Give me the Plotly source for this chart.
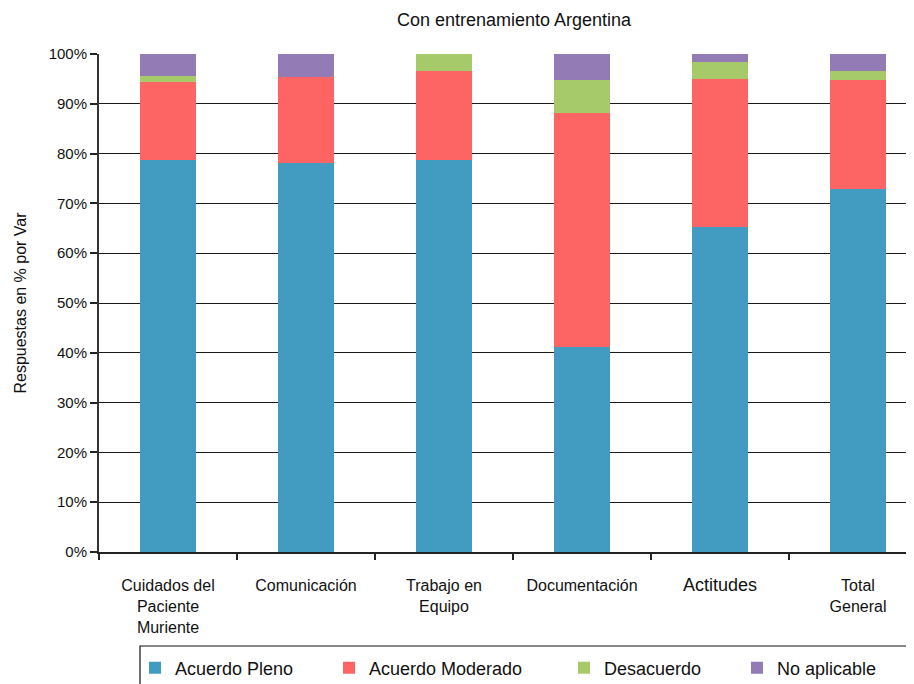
import plotly.graph_objects as go

categories = ["Cuidados del<br>Paciente<br>Muriente", "Comunicación", "Trabajo en<br>Equipo",
              "Documentación", "<span style='font-size:18px'>Actitudes</span>", "Total<br>General"]
cat_keys = ["Cuidados", "Comunicacion", "Trabajo", "Documentacion", "Actitudes", "Total"]

acuerdo_pleno = [78.8, 78.1, 78.8, 41.2, 65.3, 72.9]
acuerdo_moderado = [15.6, 17.3, 17.8, 47.0, 29.7, 21.9]
desacuerdo = [1.1, 0.0, 3.4, 6.6, 3.4, 1.8]
no_aplicable = [4.5, 4.6, 0.0, 5.2, 1.6, 3.4]

y_ticks = [0, 10, 20, 30, 40, 50, 60, 70, 80, 90, 100]

series = [
    ("Acuerdo Pleno", acuerdo_pleno, "#429bc0", "legend"),
    ("Acuerdo Moderado", acuerdo_moderado, "#fd6464", "legend2"),
    ("Desacuerdo", desacuerdo, "#a6ca6a", "legend3"),
    ("No aplicable", no_aplicable, "#937bb6", "legend4"),
]

FONT = "Liberation Sans, Arial, Helvetica, sans-serif"

fig = go.Figure()
for name, vals, color, lg in series:
    fig.add_trace(go.Bar(x=cat_keys, y=vals, name=name,
                         marker=dict(color=color, line=dict(width=0)),
                         width=0.4, legend=lg, showlegend=True))

OFF = 8  # page body margin
W, H = 914 - OFF, 684 - OFF
L, R, T = 99 - OFF, 0, 54 - OFF
ph = 498
B = H - T - ph
pw = W - L - R

def px_x(p):
    return (p - OFF - L) / pw

def px_y(p):
    return (T + ph - (p - OFF)) / ph

legend_left = [135, 329, 564, 737]
leg_common = dict(orientation="h", yanchor="middle", xanchor="left",
                  font=dict(family=FONT, size=18, color="#111"),
                  bgcolor="rgba(0,0,0,0)", borderwidth=0)

fig.update_layout(
    width=W, height=H,
    margin=dict(l=L, r=R, t=T, b=B, autoexpand=False),
    plot_bgcolor="white", paper_bgcolor="white",
    barmode="stack",
    showlegend=True,
    font=dict(family=FONT, color="#111"),
    title=dict(text="Con entrenamiento Argentina", x=(514 - OFF) / W, xref="container", xanchor="center",
               y=1 - (20 - OFF) / H, yref="container", yanchor="middle",
               font=dict(family=FONT, size=18, color="#111")),
    xaxis=dict(type="category", range=[-0.5, -0.5 + pw / 138.0], tickmode="array",
               tickvals=cat_keys, ticktext=categories,
               tickson="boundaries", ticks="outside", ticklen=6, tickcolor="#222", tickwidth=1.5,
               showline=True, linecolor="#222", linewidth=1.5, showgrid=False,
               tickfont=dict(family=FONT, size=16, color="#111"), ticklabelstandoff=18,
               zeroline=False),
    yaxis=dict(range=[0, 100], tickmode="array", tickvals=y_ticks,
               ticktext=[f"{v}%" for v in y_ticks],
               ticks="outside", ticklen=7, tickcolor="#222", tickwidth=1.5,
               showline=True, linecolor="#333", linewidth=2,
               showgrid=True, gridcolor="#1a1a1a", gridwidth=1.3,
               tickfont=dict(family=FONT, size=15, color="#111"),
               zeroline=False,
               title=dict(text="Respuestas en % por Var", standoff=18,
                          font=dict(family=FONT, size=16, color="#111"))),
    legend=dict(x=px_x(legend_left[0]), y=px_y(668), **leg_common),
    legend2=dict(x=px_x(legend_left[1]), y=px_y(668), **leg_common),
    legend3=dict(x=px_x(legend_left[2]), y=px_y(668), **leg_common),
    legend4=dict(x=px_x(legend_left[3]), y=px_y(668), **leg_common),
    shapes=[dict(type="rect", xref="paper", yref="paper",
                 x0=px_x(140), x1=px_x(935), y0=px_y(646), y1=px_y(705),
                 line=dict(color="#111", width=1.2), fillcolor="rgba(0,0,0,0)", layer="above")],
)

fig.write_html("out.html")
